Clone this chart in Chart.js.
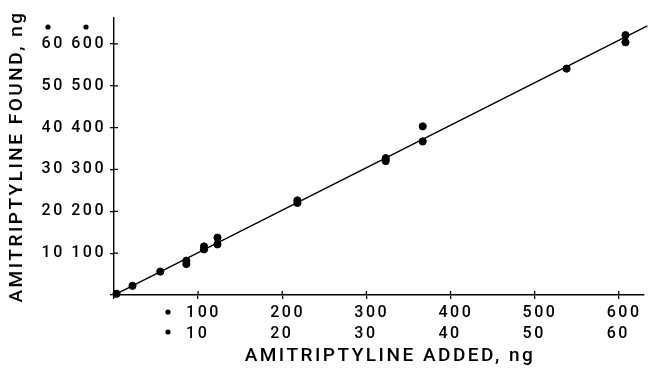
<!DOCTYPE html>
<html>
<head>
<meta charset="utf-8">
<script src="https://cdn.jsdelivr.net/npm/chart.js@4/dist/chart.umd.min.js"></script>
<style>
  html, body { margin: 0; padding: 0; background: #fff; }
  #wrap { width: 649px; height: 368px; }
</style>
</head>
<body>
<div id="wrap"><canvas id="myChart"></canvas></div>
<script>
// amitriptyline added vs found (ng)
const addedNg = [3, 22, 55, 86, 86, 107, 107, 123, 123, 218, 218, 323, 323, 367, 367, 538, 608, 608];
const foundNg = [3, 22, 56, 82, 74, 116, 109, 137, 121, 226, 220, 327, 320, 403, 367, 541, 621, 604];

// fitted line
const lineX = [0, 634];
const lineY = [0, 643];

// tick values and the two label rows
const tickValues = [0, 100, 200, 300, 400, 500, 600];
const bigLabels = ['', '100', '200', '300', '400', '500', '600'];
const smallLabels = ['', '10', '20', '30', '40', '50', '60'];

Chart.defaults.color = '#000';
Chart.defaults.font.family = 'Roboto, "Liberation Sans", sans-serif';
Chart.defaults.font.weight = 500;

// spacing of letters, like the typeset figure
const spacing = {
  id: 'spacing',
  beforeLayout: (chart) => { chart.ctx.letterSpacing = '2.5px'; },
  beforeDraw: (chart) => { chart.ctx.letterSpacing = '2.5px'; }
};

// ticks that cross the axes + the little dots next to the labels
const extras = {
  id: 'extras',
  afterDraw: (chart) => {
    const { ctx, scales } = chart;
    const x = scales.x, y = scales.y;
    ctx.save();
    ctx.strokeStyle = '#000';
    ctx.lineWidth = 1.3;
    ctx.beginPath();
    tickValues.forEach(v => {
      if (v === 0) return;
      const px = x.getPixelForValue(v);
      ctx.moveTo(px, x.top); ctx.lineTo(px, x.top - 4);
      const py = y.getPixelForValue(v);
      ctx.moveTo(y.right, py); ctx.lineTo(y.right + 4, py);
    });
    ctx.stroke();
    ctx.fillStyle = '#000';
    [[168, 312], [168, 332], [48, 27], [86, 27]].forEach(([cx, cy]) => {
      ctx.beginPath();
      ctx.arc(cx, cy, 2.6, 0, Math.PI * 2);
      ctx.fill();
    });
    ctx.restore();
  }
};

const ctx = document.getElementById('myChart');

new Chart(ctx, {
  data: {
    datasets: [{
      type: 'scatter',
      data: addedNg.map((v, i) => ({ x: v, y: foundNg[i] })),
      backgroundColor: '#000',
      borderColor: '#000',
      pointRadius: 3.6,
      pointStyle: 'circle',
      clip: false
    }, {
      type: 'line',
      data: lineX.map((v, i) => ({ x: v, y: lineY[i] })),
      borderColor: '#000',
      borderWidth: 1.4,
      pointRadius: 0,
      fill: false,
      clip: false
    }]
  },
  options: {
    responsive: true,
    maintainAspectRatio: false,
    animation: false,
    layout: { padding: { top: 18, right: 2, left: 0, bottom: 0 } },
    plugins: { legend: { display: false }, tooltip: { enabled: false } },
    scales: {
      x: {
        type: 'linear',
        min: 0,
        max: 630,
        afterBuildTicks: (s) => { s.ticks = tickValues.map(v => ({ value: v })); },
        afterFit: (s) => { s.height = 73; s.paddingLeft = 0; s.paddingRight = 0; },
        border: { color: '#000', width: 1.4 },
        grid: { drawOnChartArea: false, drawTicks: true, tickLength: 4, color: '#000', lineWidth: 1.3 },
        ticks: {
          maxRotation: 0,
          autoSkip: false,
          padding: 4,
          font: { size: 16, lineHeight: 1.28 },
          // en space in front: the printed labels sit a little right of the tick
          callback: (v, i) => i === 0 ? '' : ['\u2002' + bigLabels[i], '\u2002' + smallLabels[i] + '\u2007']
        },
        title: {
          display: true,
          text: '\u2003AMITRIPTYLINE ADDED, ng',
          font: { size: 19, lineHeight: 1.2 },
          padding: { top: 2, bottom: 0 }
        }
      },
      y: {
        type: 'linear',
        min: 0,
        max: 662,
        afterBuildTicks: (s) => { s.ticks = tickValues.map(v => ({ value: v })); },
        afterFit: (s) => { s.width = 114; s.paddingTop = 0; s.paddingBottom = 0; },
        border: { color: '#000', width: 1.4 },
        grid: { drawOnChartArea: false, drawTicks: true, tickLength: 4, color: '#000', lineWidth: 1.3 },
        ticks: {
          autoSkip: false,
          padding: 4,
          font: { size: 16 },
          callback: (v, i) => i === 0 ? '' : smallLabels[i] + ' ' + bigLabels[i]
        },
        title: {
          display: true,
          text: 'AMITRIPTYLINE FOUND, ng',
          font: { size: 19, lineHeight: 1.2 },
          padding: { top: 6, bottom: 0 }
        }
      }
    }
  },
  plugins: [spacing, extras]
});
</script>
</body>
</html>
